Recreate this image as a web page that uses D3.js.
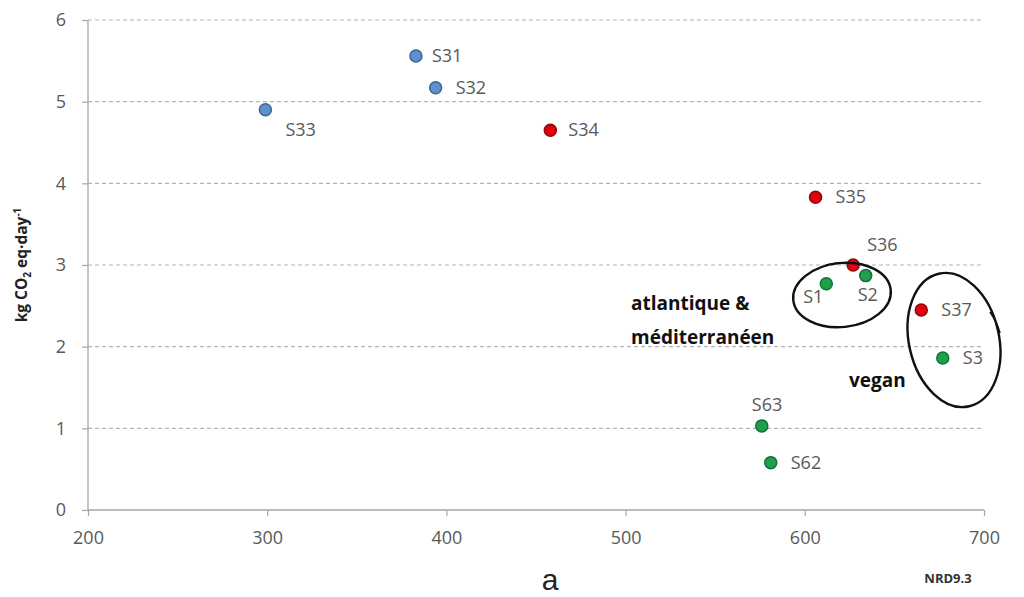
<!DOCTYPE html>
<html>
<head>
<meta charset="utf-8">
<script src="https://cdn.jsdelivr.net/npm/d3@7"></script>
<style>
  body { margin: 0; background: #fff; }
  svg text { font-family: "Open Sans", "Liberation Sans", sans-serif; }
</style>
</head>
<body>
<script>
// scenario data
var names = ["S31", "S32", "S33", "S34", "S35", "S36", "S37", "S1", "S2", "S3", "S63", "S62"];
var nrd = [383, 394, 299, 458, 606, 627, 665, 612, 634, 677, 576, 581];
var co2 = [5.56, 5.17, 4.90, 4.65, 3.83, 3.00, 2.45, 2.77, 2.87, 1.86, 1.03, 0.58];
var groups = ["blue", "blue", "blue", "red", "red", "red", "red", "green", "green", "green", "green", "green"];
var xTicks = [200, 300, 400, 500, 600, 700];
var yTicks = [0, 1, 2, 3, 4, 5, 6];

window.onload = draw();

function draw(){
    var width = 1024, height = 597;
    var margin = {left: 88, right: 40, top: 20, bottom: 87};

    var svg = d3.select("body").append("svg")
        .attr("width", width)
        .attr("height", height);

    var x = d3.scaleLinear().domain([200, 700]).range([margin.left, width - margin.right]);
    var y = d3.scaleLinear().domain([0, 6]).range([height - margin.bottom, margin.top]);

    var fill = {blue: "#5e92cd", red: "#e5000e", green: "#1fa04c"};
    var edge = {blue: "#3b6595", red: "#8a0a0a", green: "#11713a"};

    // label placement next to each dot: [dx, dy, anchor]
    var place = {
        S31: [16, 6, "start"], S32: [20, 6, "start"], S33: [20, 26, "start"],
        S34: [18, 6, "start"], S35: [20, 6, "start"], S36: [14, -14, "start"],
        S37: [20, 6, "start"], S1: [-3, 19, "end"], S2: [-8, 25, "start"],
        S3: [20, 6, "start"], S63: [-10, -15, "start"], S62: [20, 6, "start"]
    };

    // dashed gridlines
    svg.append("g")
        .selectAll("line")
        .data(yTicks.filter(function(d){ return d > 0; }))
        .enter().append("line")
        .attr("x1", x(200)).attr("x2", x(700))
        .attr("y1", function(d){ return y(d); })
        .attr("y2", function(d){ return y(d); })
        .attr("stroke", "#b4b4b4")
        .attr("stroke-width", 1.2)
        .attr("stroke-dasharray", "4,3");

    var xAxis = svg.append("g")
        .attr("transform", "translate(0," + y(0) + ")")
        .call(d3.axisBottom(x).tickValues(xTicks).tickSize(6).tickPadding(15));
    var yAxis = svg.append("g")
        .attr("transform", "translate(" + x(200) + ",0)")
        .call(d3.axisLeft(y).tickValues(yTicks).tickFormat(d3.format("d")).tickSize(6).tickPadding(16));

    [xAxis, yAxis].forEach(function(a){
        a.select(".domain").attr("stroke", "#a6a6a6").attr("stroke-width", 1.3);
        a.selectAll(".tick line").attr("stroke", "#a6a6a6").attr("stroke-width", 1.2);
        a.selectAll(".tick text")
            .attr("fill", "#595959")
            .style("font-size", "18px")
            .style("font-family", "'Open Sans', sans-serif");
    });
    // plain axis lines without end caps
    xAxis.select(".domain").attr("d", "M" + x(200) + ",0H" + x(700));
    yAxis.select(".domain").attr("d", "M0," + y(6) + "V" + y(0));

    // points
    var idx = d3.range(names.length);
    svg.append("g").selectAll("circle")
        .data(idx).enter().append("circle")
        .attr("cx", function(i){ return x(nrd[i]); })
        .attr("cy", function(i){ return y(co2[i]); })
        .attr("r", 6)
        .attr("fill", function(i){ return fill[groups[i]]; })
        .attr("stroke", function(i){ return edge[groups[i]]; })
        .attr("stroke-width", 1.5);

    svg.append("g").selectAll("text")
        .data(idx).enter().append("text")
        .attr("x", function(i){ return x(nrd[i]) + place[names[i]][0]; })
        .attr("y", function(i){ return y(co2[i]) + place[names[i]][1]; })
        .attr("text-anchor", function(i){ return place[names[i]][2]; })
        .attr("fill", "#595959")
        .style("font-size", "18px")
        .text(function(i){ return names[i]; });

    // y axis title
    var yt = svg.append("text")
        .attr("transform", "translate(27," + (y(3)) + ") rotate(-90)")
        .attr("text-anchor", "middle")
        .attr("fill", "#222")
        .style("font-size", "15.5px")
        .style("font-weight", "bold");
    yt.append("tspan").text("kg CO");
    yt.append("tspan").attr("dy", 4).style("font-size", "10px").text("2");
    yt.append("tspan").attr("dy", -4).text(" eq·day");
    yt.append("tspan").attr("dy", -6).style("font-size", "10px").text("-1");

    svg.append("text")
        .attr("x", 550).attr("y", 590)
        .attr("text-anchor", "middle")
        .attr("fill", "#222")
        .style("font-family", "'Liberation Sans', Arial, sans-serif")
        .style("font-size", "30px")
        .text("a");

    svg.append("text")
        .attr("x", 948).attr("y", 583)
        .attr("text-anchor", "middle")
        .attr("fill", "#333")
        .style("font-size", "13px")
        .style("font-weight", "bold")
        .text("NRD9.3");

    // hand-written annotations
    var note = svg.append("g")
        .attr("fill", "#111")
        .style("font-size", "19px")
        .style("font-weight", "bold");
    note.append("text").attr("x", 631).attr("y", 310).text("atlantique &");
    note.append("text").attr("x", 631).attr("y", 344).text("méditerranéen");
    note.append("text").attr("x", 849).attr("y", 387).text("vegan");

    var ink = svg.append("g").attr("fill", "none").attr("stroke", "#111").attr("stroke-width", 2.4);
    ink.append("ellipse")
        .attr("cx", 842).attr("cy", 295).attr("rx", 49).attr("ry", 32)
        .attr("transform", "rotate(-6,842,295)");
    ink.append("path").attr("d", "M826,265 Q838,262 848,263").attr("stroke-width", 1.6);
    ink.append("ellipse")
        .attr("cx", 954).attr("cy", 340).attr("rx", 45).attr("ry", 68)
        .attr("transform", "rotate(-13,954,340)");
    ink.append("path").attr("d", "M990,312 Q997,322 1000,333").attr("stroke-width", 1.6);
}
</script>
</body>
</html>
